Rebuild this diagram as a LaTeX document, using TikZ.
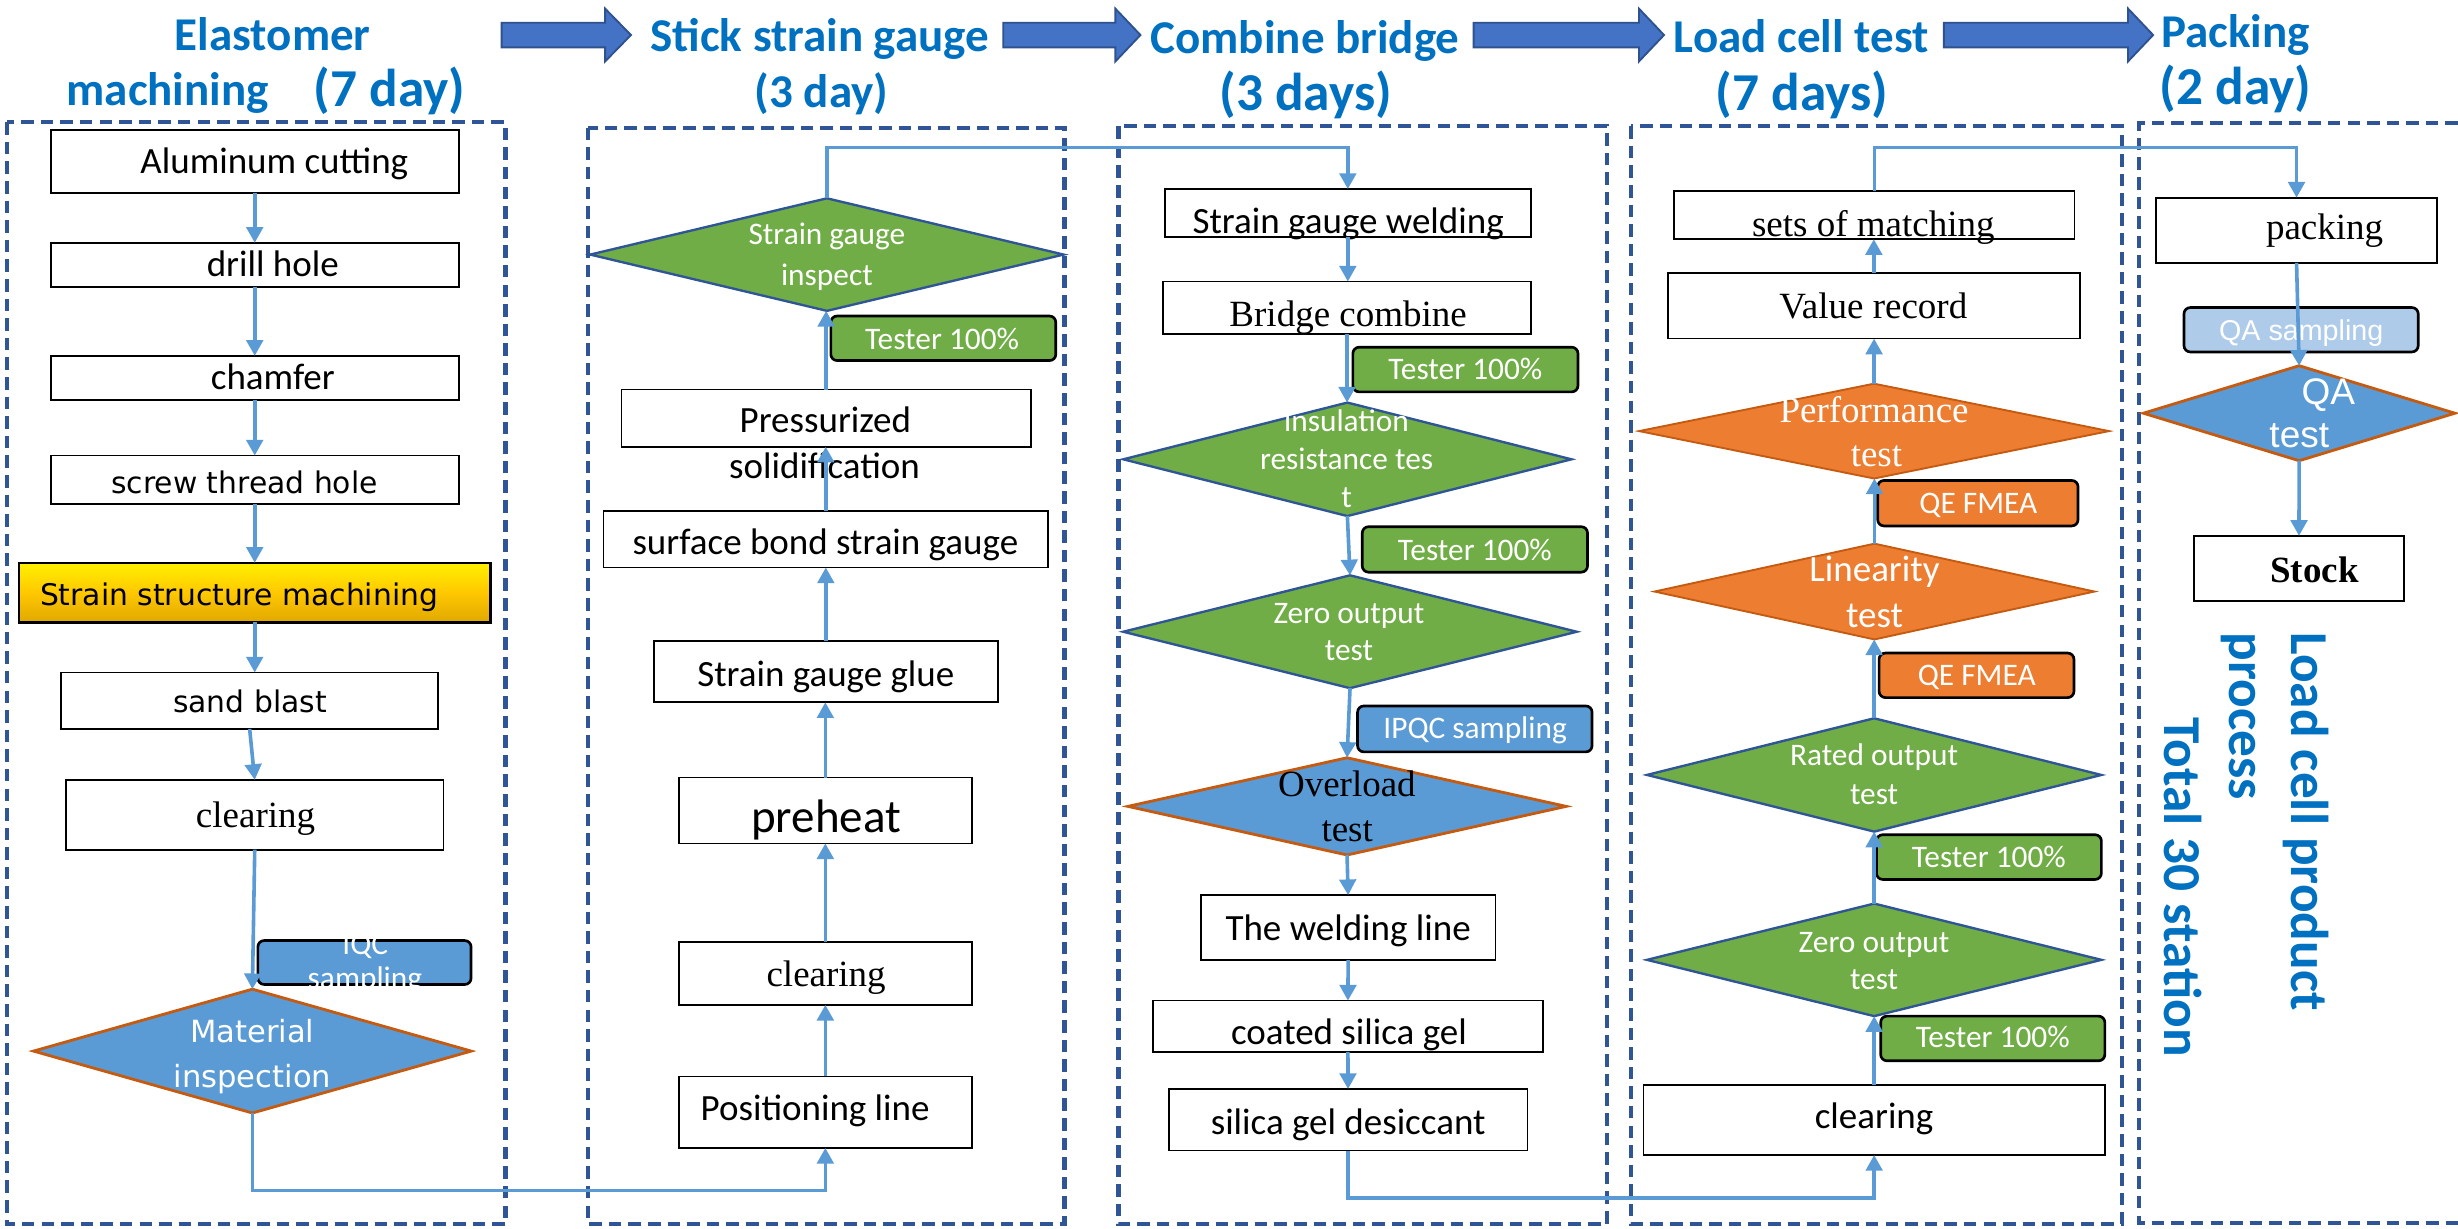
\documentclass[tikz,border=0pt]{standalone}
\usepackage{fontspec}
\setmainfont{Carlito}
\newfontfamily\fcal{Carlito}
\newfontfamily\ftms{Liberation Serif}
\newfontfamily\fvrd{DejaVu Sans}
\newfontfamily\fari{Liberation Sans}
\usetikzlibrary{shapes.geometric,arrows.meta}
\definecolor{ttl}{HTML}{0070C0}
\definecolor{barrow}{HTML}{4472C4}
\definecolor{barrowd}{HTML}{2F528F}
\definecolor{dashc}{HTML}{2F5597}
\definecolor{conc}{HTML}{5B9BD5}
\definecolor{grn}{HTML}{70AD47}
\definecolor{org}{HTML}{ED7D31}
\definecolor{orgd}{HTML}{C55A11}
\definecolor{blu}{HTML}{5B9BD5}
\definecolor{ltblu}{HTML}{AECBEA}
\definecolor{gborder}{HTML}{2F5597}
\definecolor{goldA}{HTML}{FFF000}
\definecolor{goldB}{HTML}{FFC800}
\definecolor{goldC}{HTML}{E0A800}
\newcommand\fsA{\fontsize{23.6pt}{28pt}\selectfont}
\newcommand\fsB{\fontsize{20pt}{24pt}\selectfont}
\newcommand\fsC{\fontsize{19pt}{23pt}\selectfont}
\newcommand\fsD{\fontsize{19.5pt}{23pt}\selectfont}
\newcommand\fsT{\fontsize{30pt}{36pt}\selectfont}
\newcommand\fsP{\fontsize{34pt}{40pt}\selectfont}
\newcommand\barrowx[3]{\draw[blk] (#1,14.5) -- (#2,14.5) -- (#2,5.5) -- (#3,22.35) -- (#2,39.2) -- (#2,30.2) -- (#1,30.2) -- cycle;}
\tikzset{
  pbox/.style={draw=black, line width=1.1pt, fill=white, inner sep=0pt, outer sep=0pt},
  gbox/.style={draw=black, line width=1.5pt, inner sep=0pt, outer sep=0pt, top color=goldA, bottom color=goldC, middle color=goldB},
  lab/.style={draw=black, line width=1.7pt, rounded corners=4pt, inner sep=0pt, outer sep=0pt},
  gdia/.style={diamond, draw=gborder, line width=1.5pt, fill=grn, inner sep=0pt, outer sep=0pt},
  odia/.style={diamond, draw=orgd, line width=1.2pt, fill=org, inner sep=0pt, outer sep=0pt},
  bdia/.style={diamond, draw=orgd, line width=1.8pt, fill=blu, inner sep=0pt, outer sep=0pt},
  dframe/.style={draw=dashc, line width=2.7pt, dash pattern=on 8pt off 4.5pt},
  conn/.style={draw=conc, line width=2.3pt, -{Triangle[length=10pt,width=10.5pt]}},
  tx/.style={inner sep=0pt, outer sep=0pt, anchor=base},
  ttlA/.style={tx, text=ttl, font=\fcal\bfseries\fsT},
  ttlB/.style={tx, text=ttl, font=\fcal\bfseries\fsP},
  vtx/.style={inner sep=0pt, outer sep=0pt, anchor=base west, rotate=-90, text=ttl, font=\fcal\bfseries\fsP},
  blk/.style={fill=barrow, draw=barrowd, line width=1.2pt},
  wA/.style={tx, text=white, font=\fcal\fsB},
  kA/.style={tx, font=\fcal\fsA},
  kT/.style={tx, font=\ftms\fsA},
  kV/.style={tx, font=\fvrd\fsC},
}
\begin{document}
\begin{tikzpicture}[x=1pt,y=-1pt]
\useasboundingbox (0,0) rectangle (1568,784);
\fill[white] (0,0) rectangle (1568,784);

% ---------- titles ----------
\node[ttlA] (t1a) at (174,32) {Elastomer};
\node[ttlA] (t1b) at (107,67) {machining};
\node[ttlB] (t1c) at (248.5,68) {(7 day)};
\node[ttlA] (t2a) at (523,33) {Stick strain gauge};
\node[ttlA] (t2b) at (524,68.4) {(3 day)};
\node[ttlA] (t3a) at (832.5,34) {Combine bridge};
\node[ttlB] (t3b) at (833,70.6) {(3 days)};
\node[ttlA] (t4a) at (1149,33.3) {Load cell test};
\node[ttlB] (t4b) at (1149.5,70.6) {(7 days)};
\node[ttlA] (t5a) at (1426,30.3) {Packing};
\node[ttlB] (t5b) at (1426,66.8) {(2 day)};

% ---------- block arrows ----------
\barrowx{320}{386}{402.5}
\barrowx{640}{711.5}{727.5}
\barrowx{940}{1045.5}{1061.5}
\barrowx{1240}{1357.5}{1373.5}

% ---------- dashed frames ----------
\draw[dframe] (4.5,78) rectangle (322.5,781);
\draw[dframe] (375,81.5) rectangle (679,780.6);
\draw[dframe] (713.5,80.5) rectangle (1025,781);
\draw[dframe] (1040.5,80.5) rectangle (1353.5,780.7);
\draw[dframe] (1568,78.7) -- (1364.7,78.7) -- (1364.7,780) -- (1568,780);

% ---------- column 1 ----------
\node[pbox, minimum width=260.2pt, minimum height=40pt] (n1) at (162.5,103) {};
\node[kA] (n1t) at (175,110.6) {Aluminum cutting};
\node[pbox, minimum width=260.2pt, minimum height=28pt] (n2) at (162.5,168.9) {};
\node[kA] (n2t) at (174,176.5) {drill hole};
\node[pbox, minimum width=260.2pt, minimum height=28pt] (n3) at (162.5,241) {};
\node[kA] (n3t) at (174,248.6) {chamfer};
\node[pbox, minimum width=260.2pt, minimum height=31pt] (n4) at (162.5,306.1) {};
\node[kV] (n4t) at (156,315) {screw thread hole};
\node[gbox, minimum width=301pt, minimum height=38pt] (n5) at (162.5,378) {};
\node[kV] (n5t) at (152.5,386) {Strain structure machining};
\node[pbox, minimum width=240.5pt, minimum height=36pt] (n6) at (159.25,447) {};
\node[kV] (n6t) at (159.5,454.2) {sand blast};
\node[pbox, minimum width=241pt, minimum height=44.5pt] (n7) at (162.5,519.75) {};
\node[kT] (n7t) at (163,527.7) {clearing};
\node[bdia, minimum width=279.2pt, minimum height=79pt] (n8) at (161,670.5) {};
\node[tx, text=white, font=\fvrd\fsD] (n8a) at (161,665) {Material};
\node[tx, text=white, font=\fvrd\fsD] (n8b) at (161,694) {inspection};
\node[lab, fill=blu, minimum width=136pt, minimum height=28pt] (q1) at (232.5,614) {};
\node[wA] (q1a) at (233,609.2) {IQC};
\node[wA] (q1b) at (232.8,630.5) {sampling};

% ---------- column 2 ----------
\node[gdia, minimum width=302pt, minimum height=71.8pt] (m1) at (527.5,162.4) {};
\node[wA] (m1a) at (527.5,156) {Strain gauge};
\node[wA] (m1b) at (527.5,182) {inspect};
\node[lab, fill=grn, minimum width=143.5pt, minimum height=28.4pt] (L1) at (601.75,215.8) {};
\node[wA] (L1t) at (601,222.7) {Tester 100\%};
\node[pbox, minimum width=261pt, minimum height=36.5pt] (m2) at (527,266.75) {};
\node[kA] (m2a) at (526.5,275.8) {Pressurized};
\node[kA] (m2b) at (526,305) {solidification};
\node[pbox, minimum width=283.5pt, minimum height=36pt] (m3) at (526.75,344) {};
\node[kA] (m3t) at (526.5,354) {surface bond strain gauge};
\node[pbox, minimum width=219.6pt, minimum height=39pt] (m4) at (526.8,428.5) {};
\node[kA] (m4t) at (526.8,437.7) {Strain gauge glue};
\node[pbox, minimum width=187pt, minimum height=42pt] (m5) at (526.5,517) {};
\node[tx, font=\fcal\fsT] (m5t) at (527,531) {preheat};
\node[pbox, minimum width=187pt, minimum height=40.3pt] (m6) at (526.5,620.85) {};
\node[kT] (m6t) at (527,629.6) {clearing};
\node[pbox, minimum width=187pt, minimum height=45.6pt] (m7) at (526.5,709.5) {};
\node[kA] (m7t) at (520,714.5) {Positioning line};

% ---------- column 3 ----------
\node[pbox, minimum width=233.6pt, minimum height=30.7pt] (c1) at (859.8,135.95) {};
\node[kA] (c1t) at (860,148.8) {Strain gauge welding};
\node[pbox, minimum width=234.6pt, minimum height=33.4pt] (c2) at (859.3,196.3) {};
\node[kT] (c2t) at (860,208) {Bridge combine};
\node[gdia, minimum width=285.9pt, minimum height=72.4pt] (c3) at (859.5,293) {};
\node[wA] (c3a) at (859,275) {insulation};
\node[wA] (c3b) at (859,299.7) {resistance tes};
\node[wA] (c3c) at (859,323.6) {t};
\node[lab, fill=grn, minimum width=143.6pt, minimum height=28.5pt] (L2) at (934.8,235.75) {};
\node[wA] (L2t) at (934.8,242.2) {Tester 100\%};
\node[gdia, minimum width=289.4pt, minimum height=72pt] (c4) at (861.2,403) {};
\node[wA] (c4a) at (860.5,397.5) {Zero output};
\node[wA] (c4b) at (860.5,421.5) {test};
\node[lab, fill=grn, minimum width=143.7pt, minimum height=29pt] (L3) at (940.85,350.5) {};
\node[wA] (L3t) at (940.85,357.7) {Tester 100\%};
\node[bdia, minimum width=279.5pt, minimum height=62pt] (c5) at (859.3,514.4) {};
\node[kT] (c5a) at (859.2,508.2) {Overload};
\node[kT] (c5b) at (859.4,536.7) {test};
\node[lab, fill=blu, minimum width=149.6pt, minimum height=29.3pt] (L4) at (940.8,465) {};
\node[wA] (L4t) at (941,471) {IPQC sampling};
\node[pbox, minimum width=188pt, minimum height=41.4pt] (c6) at (860,591.7) {};
\node[kA] (c6t) at (860,599.9) {The welding line};
\node[pbox, minimum width=248.7pt, minimum height=32.7pt] (c7) at (859.85,654.65) {};
\node[kA] (c7t) at (860.5,666.6) {coated silica gel};
\node[pbox, minimum width=228.9pt, minimum height=39.3pt] (c8) at (859.95,714.35) {};
\node[kA] (c8t) at (860,723.7) {silica gel desiccant};

% ---------- column 4 ----------
\node[pbox, minimum width=255.4pt, minimum height=30.8pt] (d1) at (1195.7,137.2) {};
\node[kT] (d1t) at (1195,150.8) {sets of matching};
\node[pbox, minimum width=262.7pt, minimum height=42pt] (d2) at (1195.35,195) {};
\node[kT] (d2t) at (1195,203) {Value record};
\node[odia, minimum width=299.8pt, minimum height=60.5pt] (d3) at (1195.5,275) {};
\node[tx, text=white, font=\ftms\fsA] (d3a) at (1195.5,269.4) {Performance};
\node[tx, text=white, font=\ftms\fsA] (d3b) at (1197,297.6) {test};
\node[lab, fill=org, minimum width=127.8pt, minimum height=29pt] (L5) at (1261.7,321) {};
\node[wA] (L5t) at (1262,327.4) {QE FMEA};
\node[odia, minimum width=280.7pt, minimum height=61.1pt] (d4) at (1195.75,377.35) {};
\node[tx, text=white, font=\fcal\fsA] (d4a) at (1195.75,370.8) {Linearity};
\node[tx, text=white, font=\fcal\fsA] (d4b) at (1195.75,400) {test};
\node[lab, fill=org, minimum width=124.3pt, minimum height=28.4pt] (L6) at (1260.85,430.8) {};
\node[wA] (L6t) at (1261,437.6) {QE FMEA};
\node[gdia, minimum width=289.9pt, minimum height=72.3pt] (d5) at (1195.55,494.35) {};
\node[wA] (d5a) at (1195.5,488.4) {Rated output};
\node[wA] (d5b) at (1195.5,513.2) {test};
\node[lab, fill=grn, minimum width=143.5pt, minimum height=28.5pt] (L7) at (1268.75,546.75) {};
\node[wA] (L7t) at (1268.75,553.3) {Tester 100\%};
\node[gdia, minimum width=289.9pt, minimum height=71.8pt] (d6) at (1195.55,612.3) {};
\node[wA] (d6a) at (1195.5,607.3) {Zero output};
\node[wA] (d6b) at (1195.5,630.9) {test};
\node[lab, fill=grn, minimum width=143pt, minimum height=28.5pt] (L8) at (1271.2,662.45) {};
\node[wA] (L8t) at (1271.2,668.5) {Tester 100\%};
\node[pbox, minimum width=294.3pt, minimum height=44.6pt] (d7) at (1195.55,714.5) {};
\node[kA] (d7t) at (1195.5,720) {clearing};

% ---------- column 5 ----------
\node[pbox, minimum width=179.4pt, minimum height=41.6pt] (e1) at (1465,146.9) {};
\node[kT] (e1t) at (1482.9,152.6) {packing};
\node[lab, fill=ltblu, minimum width=149.4pt, minimum height=28.3pt] (L9) at (1467.9,210.35) {};
\node[tx, text=white, font=\fari\fontsize{18.3pt}{22pt}\selectfont] (L9t) at (1468,217) {QA sampling};
\node[bdia, minimum width=198.7pt, minimum height=60.6pt] (e2) at (1466.65,263.6) {};
\node[tx, text=white, font=\fari\fsA] (e2a) at (1485.3,257.8) {QA};
\node[tx, text=white, font=\fari\fsA] (e2b) at (1466.75,285.5) {test};
\node[pbox, minimum width=133.9pt, minimum height=41.6pt] (e3) at (1466.55,362.6) {};
\node[tx, font=\ftms\bfseries\fsA] (e3t) at (1476.5,371.3) {Stock};

% ---------- vertical texts ----------
\node[vtx] (v1) at (1462,403.5) {Load cell product};
\node[vtx] (v2) at (1422,403.5) {process};
\node[vtx] (v3) at (1380.5,458) {Total 30 station};

% ---------- connectors ----------
\coordinate (r1) at (0,759.5);
\coordinate (r2) at (0,94);
\coordinate (r3) at (0,764.2);
\draw[conn] (n1.south) -- (n2.north);
\draw[conn] (n2.south) -- (n3.north);
\draw[conn] (n3.south) -- (n4.north);
\draw[conn] (n4.south) -- (n5.north);
\draw[conn] (n5.south) -- (n5.south |- n6.north);
\draw[conn] (n6.south) -- (n7.north);
\draw[conn] (n7.south) -- (n8.north);
\draw[conn] (n8.south) -- (n8.south |- r1) -| (m7.south);

\draw[conn] (m7.north) -- (m7.north |- m6.south);
\draw[conn] (m6.north) -- (m6.north |- m5.south);
\draw[conn] (m5.north) -- (m5.north |- m4.south);
\draw[conn] (m4.north) -- (m4.north |- m3.south);
\draw[conn] (m3.north) -- (m3.north |- m2.south);
\draw[conn] (m2.north) -- (m2.north |- m1.south);
\draw[conn] (m1.north) -- (m1.north |- r2) -| (c1.north);

\draw[conn] (c1.south) -- (c1.south |- c2.north);
\draw[conn] (c2.south) -- (c2.south |- c3.north);
\draw[conn] (c3.south) -- (c4.north);
\draw[conn] (c4.south) -- (c5.north);
\draw[conn] (c5.south) -- (c6.north);
\draw[conn] (c6.south) -- (c7.north);
\draw[conn] (c7.south) -- (c8.north);
\draw[conn] (c8.south) -- (c8.south |- r3) -| (d7.south);

\draw[conn] (d7.north) -- (d7.north |- d6.south);
\draw[conn] (d6.north) -- (d6.north |- d5.south);
\draw[conn] (d5.north) -- (d5.north |- d4.south);
\draw[conn] (d4.north) -- (d4.north |- d3.south);
\draw[conn] (d3.north) -- (d3.north |- d2.south);
\draw[conn] (d2.north) -- (d2.north |- d1.south);
\draw[conn] (d1.north) -- (d1.north |- r2) -| (e1.north);

\draw[conn] (e1.south) -- (e2.north);
\draw[conn] (e2.south) -- (e3.north);
\end{tikzpicture}
\end{document}
